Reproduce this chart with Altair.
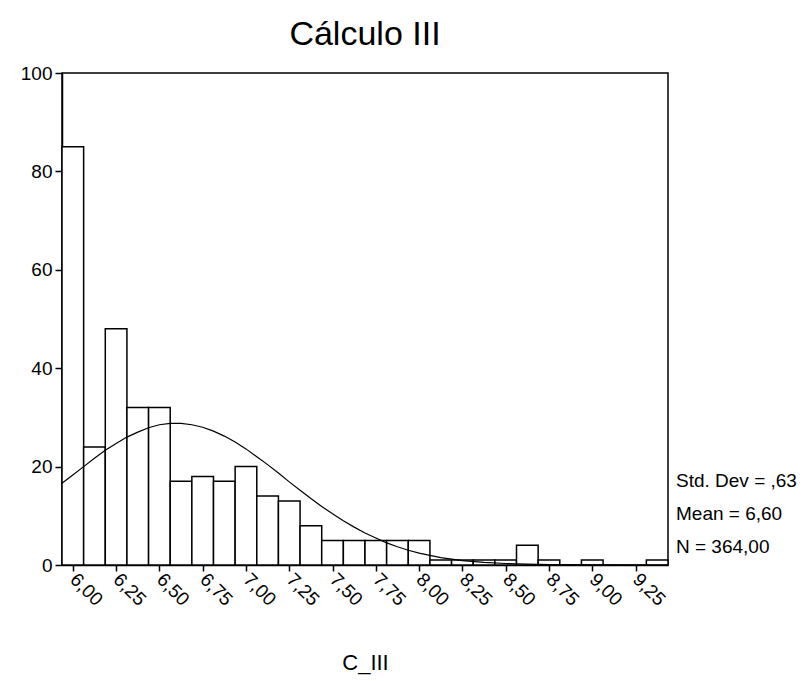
import altair as alt
import pandas as pd

# Histogram bins (centres, width 0.125) and counts
bin_centers = [6.000, 6.125, 6.250, 6.375, 6.500, 6.625, 6.750, 6.875, 7.000,
               7.125, 7.250, 7.375, 7.500, 7.625, 7.750, 7.875, 8.000, 8.125,
               8.250, 8.375, 8.500, 8.625, 8.750, 8.875, 9.000, 9.125, 9.250, 9.375]
counts = [85, 24, 48, 32, 32, 17, 18, 17, 20,
          14, 13, 8, 5, 5, 5, 5, 5, 1,
          1, 1, 1, 4, 1, 0, 1, 0, 0, 1]
bin_width = 0.125

# Normal curve
curve_x = [5.9375, 6.0, 6.0625, 6.125, 6.1875, 6.25, 6.3125, 6.375, 6.4375, 6.5,
           6.5625, 6.625, 6.6875, 6.75, 6.8125, 6.875, 6.9375, 7.0, 7.0625, 7.125,
           7.1875, 7.25, 7.3125, 7.375, 7.4375, 7.5, 7.5625, 7.625, 7.6875, 7.75,
           7.8125, 7.875, 7.9375, 8.0, 8.0625, 8.125, 8.1875, 8.25, 8.375, 8.5,
           8.625, 8.75, 9.0, 9.25, 9.4375]
curve_y = [16.6, 18.3, 20.0, 21.7, 23.3, 24.7, 26.0, 27.0, 27.9, 28.5,
           28.8, 28.8, 28.5, 28.0, 27.2, 26.2, 25.0, 23.6, 22.0, 20.4,
           18.7, 16.9, 15.2, 13.5, 11.9, 10.4, 9.0, 7.7, 6.5, 5.5,
           4.5, 3.7, 3.0, 2.4, 1.95, 1.5, 1.2, 0.9, 0.54, 0.3,
           0.16, 0.09, 0.02, 0.0, 0.0]

stats_lines = ["Std. Dev = ,63", "Mean = 6,60", "N = 364,00"]
x_ticks = [6.00, 6.25, 6.50, 6.75, 7.00, 7.25, 7.50, 7.75, 8.00, 8.25, 8.50, 8.75, 9.00, 9.25]
y_ticks = [0, 20, 40, 60, 80, 100]

FONT = "Liberation Sans"
LABEL_SIZE = 19

bars_df = pd.DataFrame({"center": bin_centers, "count": counts})
bars_df["x0"] = bars_df["center"] - bin_width / 2
bars_df["x1"] = bars_df["center"] + bin_width / 2
bars_df = bars_df[bars_df["count"] > 0]

curve_df = pd.DataFrame({"x": curve_x, "y": curve_y})
stats_df = pd.DataFrame({"text": ["\n".join(stats_lines)]})

xscale = alt.Scale(domain=[5.9375, 9.4375], nice=False, zero=False)
yscale = alt.Scale(domain=[0, 100], nice=False)

xaxis = alt.Axis(
    values=x_ticks,
    labelExpr="replace(format(datum.value, '.2f'), '.', ',')",
    labelAngle=45, labelAlign="left", labelBaseline="middle",
    labelPadding=5, tickSize=6, grid=False,
    labelFont=FONT, labelFontSize=LABEL_SIZE, labelColor="black",
    title="C_III", titleFont=FONT, titleFontSize=22, titleFontWeight="normal",
    titleColor="black", titleY=97, titleBaseline="middle",
    domainColor="black", domainWidth=1.5, tickColor="black", tickWidth=1.5,
)
yaxis = alt.Axis(values=y_ticks, tickSize=7, grid=False, title=None, labelPadding=3,
                 labelFont=FONT, labelFontSize=LABEL_SIZE, labelColor="black",
                 domainColor="black", domainWidth=1.5, tickColor="black", tickWidth=1.5)

bars = alt.Chart(bars_df).mark_rect(fill="white", stroke="black", strokeWidth=1.5).encode(
    x=alt.X("x0:Q", scale=xscale, axis=xaxis),
    x2="x1:Q",
    y=alt.Y("count:Q", scale=yscale, axis=yaxis),
    y2=alt.datum(0),
)

curve = alt.Chart(curve_df).mark_line(color="black", strokeWidth=1.2).encode(
    x=alt.X("x:Q", scale=xscale),
    y=alt.Y("y:Q", scale=yscale),
)

stats = alt.Chart(stats_df).mark_text(
    align="left", baseline="middle", fontSize=LABEL_SIZE, font=FONT, color="black",
    lineBreak="\n", lineHeight=33,
).encode(
    x=alt.value(614),
    y=alt.value(408),
    text="text:N",
)

chart = alt.layer(bars, curve, stats).properties(
    width=606, height=492,
    background="white",
    autosize=alt.AutoSizeParams(type="none"),
    padding={"left": 54, "top": 65, "right": 130, "bottom": 115},
    title=alt.Title("Cálculo III", fontSize=34, fontWeight="normal", font=FONT,
                    anchor="middle", offset=12, color="black"),
).configure_view(
    stroke="black", strokeWidth=1.5
)

chart.save("out.html", embed_options={"renderer": "svg", "actions": False})
